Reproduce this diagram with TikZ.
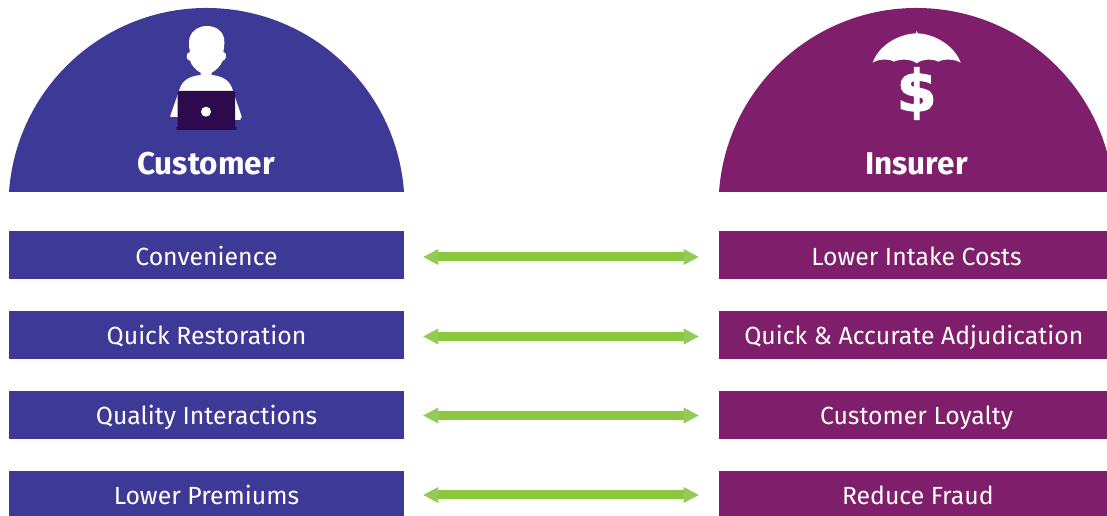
\documentclass[tikz,border=0pt]{standalone}
\usepackage{fontspec}
\setmainfont{Fira Sans}
\newfontfamily\dollarfont[FakeBold=2.2]{DejaVu Sans Bold}
\usetikzlibrary{arrows.meta}
\definecolor{custblue}{HTML}{3C3A96}
\definecolor{insplum}{HTML}{7F1E6B}
\definecolor{linkgreen}{HTML}{8DC63F}
\definecolor{tipgreen}{HTML}{93CB57}
\definecolor{laptopdark}{HTML}{2D0A4E}
\tikzset{
  custbox/.style={fill=custblue,text=white,minimum width=296.25pt,minimum height=36pt,inner sep=0pt,text height=15pt,text depth=0pt,font=\fontsize{18.6pt}{20pt}\selectfont},
  insbox/.style={fill=insplum,text=white,minimum width=296.25pt,minimum height=36pt,inner sep=0pt,text height=15pt,text depth=0pt,font=\fontsize{18.6pt}{20pt}\selectfont},
  headtext/.style={text=white,inner sep=0pt,font=\fontsize{23.6pt}{26pt}\selectfont\bfseries},
  link/.style={draw=linkgreen,line width=6.75pt,{Triangle[length=11.25pt,width=12pt,fill=tipgreen,line width=0pt]}-{Triangle[length=11.25pt,width=12pt,fill=tipgreen,line width=0pt]},shorten <=14.25pt,shorten >=15pt},
}
\begin{document}
\begin{tikzpicture}[x=0.75pt,y=0.75pt,yscale=-1,xscale=1]
\useasboundingbox (0,0) rectangle (1107,516);
\clip (0,0) rectangle (1107,516);

%Shape: Domes
\fill [custblue] (9,192) arc [start angle=184.05, end angle=355.95, radius=148.5pt] -- cycle;
\fill [insplum] (719,192) arc [start angle=184.05, end angle=355.95, radius=148.5pt] -- cycle;

%Shape: Person
\fill [white] (190,51.7) .. controls (188.5,46) and (189,42) .. (189.5,38) .. controls (192,30) and (199,26) .. (206.7,26) .. controls (215,26) and (222,30) .. (224,38) .. controls (224.5,42) and (224.5,46) .. (223.3,51.7) .. controls (226,52.5) and (226.5,55) .. (226,57) .. controls (225.5,59.5) and (224,60.5) .. (222.7,60.7) .. controls (220.5,66) and (216,70.5) .. (211.7,72.7) -- (211.7,75) .. controls (222,76) and (229,80) .. (232,88) -- (241.7,116.7) -- (240,120) -- (170,116.7) -- (180,88) .. controls (183,80) and (190,76) .. (200.7,75) -- (200.7,72.7) .. controls (196,70.5) and (192,66) .. (190,60.7) .. controls (188.5,60.5) and (187,59.5) .. (186.7,57) .. controls (186.5,55) and (187,52.5) .. (190,51.7) -- cycle;
%Shape: Laptop
\fill [laptopdark] (177.7,92.5) -- (179,91) -- (233.5,91) -- (235,92.5) -- (235,126.7) -- (236.7,128) -- (235.5,130) -- (177,130) -- (176,128) -- (177.7,126.7) -- cycle;
\fill [white] (206,111.7) circle [radius=3.75pt];

%Shape: Umbrella
\fill [white] (916.7,30.7) -- (917.6,33.3) .. controls (937,34.5) and (955,47) .. (960.7,62.7) .. controls (955,59) and (944,58.5) .. (938.3,61.7) .. controls (933,58.5) and (922,59) .. (916.7,63.3) .. controls (911.4,59) and (900,58.5) .. (894,61.7) .. controls (889,58.5) and (878,59) .. (872.7,62.7) .. controls (878,47) and (896,34.5) .. (915.8,33.3) -- cycle;
\node (dollar) at (916.7,93.5) [text=white,inner sep=0pt,font=\fontsize{43pt}{43pt}\dollarfont] {\$};

% Text Node
\node (custhead) at (206,164) [headtext] {Customer};
\node (inshead) at (916.5,164) [headtext] {Insurer};

%Shape: Rectangle
\node (cust1) at (206.5,255) [custbox,text height=15.75pt] {Convenience};
\node (cust2) at (206.5,335) [custbox] {Quick Restoration};
\node (cust3) at (206.5,415) [custbox] {Quality Interactions};
\node (cust4) at (206.5,495) [custbox,text height=13.5pt] {Lower Premiums};
\node (ins1) at (916.5,255) [insbox,text height=15.75pt] {Lower Intake Costs};
\node (ins2) at (916.5,335) [insbox] {\hspace*{-4pt}Quick \& Accurate Adjudication};
\node (ins3) at (916.5,415) [insbox] {Customer Loyalty};
\node (ins4) at (916.5,495) [insbox,text height=13.5pt] {\hspace*{2pt}Reduce Fraud};

%Straight Lines
\foreach \row/\lift in {1/2,2/1.5,3/0.5,4/0} {
  \draw [link] ([yshift=\lift*0.75pt]cust\row.east) -- ([yshift=\lift*0.75pt]ins\row.west);
}
\end{tikzpicture}
\end{document}
